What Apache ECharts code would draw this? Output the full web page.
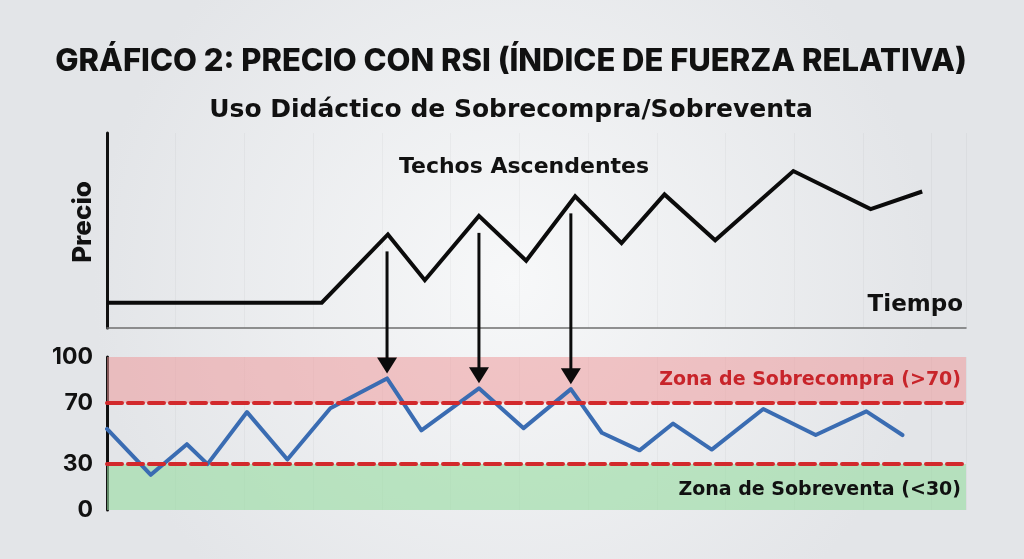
<!DOCTYPE html>
<html>
<head>
<meta charset="utf-8">
<title>Precio con RSI</title>
<script src="https://cdn.jsdelivr.net/npm/echarts@6/dist/echarts.min.js"></script>
<style>
  html, body { margin: 0; padding: 0; width: 100%; height: 100%; background: #eceef0; }
  #chart { width: 1024px; height: 559px; }
</style>
</head>
<body>
<div id="chart"></div>
<script>
// Price path (time on a 0-100 scale, price in arbitrary units)
const priceTime  = [0, 25, 32.7, 37, 43.3, 48.8, 54.5, 59.9, 64.9, 70.8, 79.9, 88.9, 94.9];
const priceValue = [13, 13, 48, 24.5, 57.5, 34.5, 67.5, 43.5, 68.5, 45, 80.5, 61, 70];

// RSI path on the same time scale
const rsiTime  = [0, 5.1, 9.3, 11.7, 16.3, 21, 26, 32.6, 36.6, 43.3, 48.5, 54, 57.6, 62, 65.9, 70.4, 76.4, 82.5, 88.4, 92.6];
const rsiValue = [53, 23, 43, 30, 64, 33, 66.5, 86, 52, 79.5, 53.5, 79, 50.5, 39, 56.5, 39.5, 66, 49, 64.5, 49];

// RSI axis ticks and zone limits
const rsiTicks = [0, 30, 70, 100];
const overbought = 70;
const oversold = 30;

// Rising price tops paired with the matching RSI tops
const pricePeakIdx = [2, 4, 6];
const rsiPeakIdx   = [7, 9, 11];

const HEAD = 'Inter, "Noto Sans", sans-serif';
const BODY = '"DejaVu Sans", Inter, sans-serif';

const chart = echarts.init(document.getElementById('chart'));

const pricePairs = priceTime.map((t, i) => [t, priceValue[i]]);
const rsiPairs = rsiTime.map((t, i) => [t, rsiValue[i]]);

const option = {
  animation: false,
  backgroundColor: {
    type: 'radial', x: 0.5, y: 0.5, r: 0.75,
    colorStops: [
      { offset: 0, color: '#f7f8f9' },
      { offset: 1, color: '#e3e5e8' }
    ]
  },
  grid: [
    { left: 107, right: 58, top: 133, height: 195 },
    { left: 107, right: 58, top: 357, height: 153 }
  ],
  xAxis: [
    {
      type: 'value', gridIndex: 0, min: 0, max: 100, interval: 8,
      axisLine: { show: true, lineStyle: { color: '#6f6f6f', width: 1.5 } },
      axisTick: { show: false }, axisLabel: { show: false },
      splitLine: { show: true, lineStyle: { color: 'rgba(0,0,0,0.03)', width: 1 } }
    },
    {
      type: 'value', gridIndex: 1, min: 0, max: 100, interval: 8,
      axisLine: { show: false }, axisTick: { show: false }, axisLabel: { show: false },
      splitLine: { show: true, lineStyle: { color: 'rgba(0,0,0,0.03)', width: 1 } }
    }
  ],
  yAxis: [
    {
      type: 'value', gridIndex: 0, min: 0, max: 100,
      axisLine: { show: true, lineStyle: { color: '#111', width: 3 } },
      axisTick: { show: false }, axisLabel: { show: false },
      splitLine: { show: false }
    },
    {
      type: 'value', gridIndex: 1, min: 0, max: 100,
      axisLine: { show: true, lineStyle: { color: '#111', width: 3 } },
      axisTick: { show: false },
      axisLabel: {
        customValues: rsiTicks, margin: 14,
        fontFamily: HEAD, fontSize: 23, fontWeight: 700, color: '#111'
      },
      splitLine: { show: false }
    }
  ],
  series: [
    {
      name: 'Precio', type: 'line', xAxisIndex: 0, yAxisIndex: 0,
      data: pricePairs, symbol: 'none', z: 3,
      lineStyle: { color: '#0b0b0b', width: 4, join: 'miter', cap: 'butt' }
    },
    {
      name: 'RSI', type: 'line', xAxisIndex: 1, yAxisIndex: 1,
      data: rsiPairs, symbol: 'none', z: 3,
      lineStyle: { color: '#3a6cb2', width: 4, join: 'round', cap: 'round' },
      markArea: {
        silent: true,
        data: [
          [
            {
              yAxis: overbought,
              itemStyle: { color: 'rgba(238,150,152,0.52)' },
              label: {
                show: true, position: 'insideRight', distance: 5,
                formatter: 'Zona de Sobrecompra (>' + overbought + ')',
                fontFamily: BODY, fontSize: 19, fontWeight: 700, color: '#c8242a'
              }
            },
            { yAxis: 100 }
          ],
          [
            {
              yAxis: 0,
              itemStyle: { color: 'rgba(150,220,160,0.6)' },
              label: {
                show: true, position: 'insideRight', distance: 5, offset: [0, 3],
                formatter: 'Zona de Sobreventa (<' + oversold + ')',
                fontFamily: BODY, fontSize: 19, fontWeight: 700, color: '#111'
              }
            },
            { yAxis: oversold }
          ]
        ]
      },
      markLine: {
        silent: true, symbol: 'none', label: { show: false },
        lineStyle: { color: '#d2292c', width: 4, type: [15, 6], cap: 'round' },
        data: [{ yAxis: overbought }, { yAxis: oversold }]
      }
    }
  ],
  graphic: [
    {
      type: 'text', x: 511, y: 62,
      style: {
        text: 'GRÁFICO 2: PRECIO CON RSI (ÍNDICE DE FUERZA RELATIVA)',
        textAlign: 'center', textVerticalAlign: 'middle',
        font: '800 31px ' + HEAD, fill: '#111'
      }
    },
    {
      type: 'text', x: 511, y: 110,
      style: {
        text: 'Uso Didáctico de Sobrecompra/Sobreventa',
        textAlign: 'center', textVerticalAlign: 'middle',
        font: '700 25px ' + BODY, fill: '#111'
      }
    },
    {
      type: 'text', x: 524, y: 167,
      style: {
        text: 'Techos Ascendentes',
        textAlign: 'center', textVerticalAlign: 'middle',
        font: '700 22px ' + BODY, fill: '#111'
      }
    },
    {
      type: 'text', x: 963, y: 305,
      style: {
        text: 'Tiempo',
        textAlign: 'right', textVerticalAlign: 'middle',
        font: '700 23px ' + BODY, fill: '#111'
      }
    },
    {
      type: 'text', x: 83, y: 222, rotation: Math.PI / 2,
      style: {
        text: 'Precio',
        textAlign: 'center', textVerticalAlign: 'middle',
        font: '800 26px ' + HEAD, fill: '#111'
      }
    }
  ]
};

chart.setOption(option);

// Arrows linking each rising price top to its RSI top, placed through the axes' own scales
const arrowGraphics = [];
pricePeakIdx.forEach((pi, k) => {
  const ri = rsiPeakIdx[k];
  const top = chart.convertToPixel({ gridIndex: 0 }, [rsiTime[ri], priceValue[pi]]);
  const bottom = chart.convertToPixel({ gridIndex: 1 }, [rsiTime[ri], rsiValue[ri]]);
  const x = bottom[0];
  const y0 = top[1] + 17;
  const tip = bottom[1] - 5;
  const headH = 16, headW = 10;
  arrowGraphics.push({
    type: 'line', z: 10,
    shape: { x1: x, y1: y0, x2: x, y2: tip - headH + 2 },
    style: { stroke: '#0b0b0b', lineWidth: 3 }
  });
  arrowGraphics.push({
    type: 'polygon', z: 10,
    shape: { points: [[x - headW, tip - headH], [x + headW, tip - headH], [x, tip]] },
    style: { fill: '#0b0b0b' }
  });
});
chart.setOption({ graphic: option.graphic.concat(arrowGraphics) });
</script>
</body>
</html>
